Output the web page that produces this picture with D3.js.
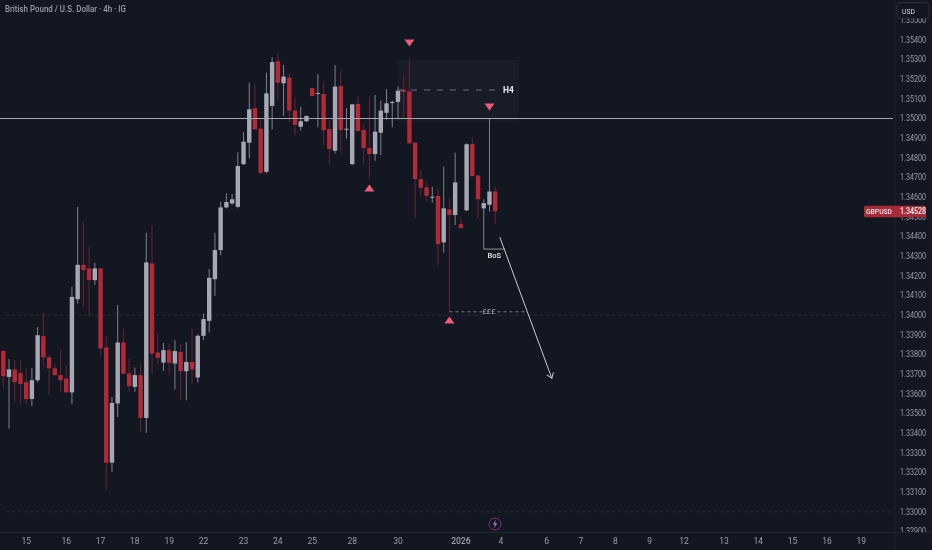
<!DOCTYPE html>
<html><head><meta charset="utf-8">
<script src="https://cdnjs.cloudflare.com/ajax/libs/d3/7.8.5/d3.min.js"></script>
<style>html,body{margin:0;padding:0;background:#131722;overflow:hidden}svg{display:block;filter:blur(0.4px)}</style>
</head><body><div id="chart"></div>
<script>
const title = "British Pound / U.S. Dollar · 4h · IG";
const symbol = "GBPUSD";
const currency = "USD";
const lastPrice = 1.34528;
const highs = [1.33822,1.33776,1.33771,1.33771,1.33732,1.33732,1.33940,1.34012,1.33796,1.33754,1.33825,1.33740,1.34144,1.34551,1.34472,1.34348,1.34266,1.34239,1.33893,1.33584,1.34051,1.33932,1.33781,1.33734,1.33751,1.34419,1.34454,1.33903,1.33859,1.33856,1.33873,1.33852,1.33861,1.33932,1.33902,1.34009,1.34234,1.34419,1.34577,1.34621,1.34616,1.34828,1.34930,1.35182,1.35176,1.34996,1.35233,1.35311,1.35332,1.35272,1.35230,1.35108,1.35060,1.35015,1.35158,1.35225,1.35187,1.34992,1.35272,1.35243,1.35052,1.35074,1.35114,1.34972,1.35108,1.35120,1.35091,1.35149,1.35091,1.35162,1.35216,1.35301,1.34878,1.34738,1.34678,1.34653,1.34645,1.34755,1.34594,1.34826,1.34497,1.34874,1.34904,1.34712,1.34589,1.35003,1.34653];
const lows = [1.33635,1.33423,1.33554,1.33547,1.33547,1.33537,1.33659,1.33737,1.33593,1.33690,1.33610,1.33602,1.33547,1.34059,1.34039,1.33995,1.34153,1.33796,1.33114,1.33203,1.33482,1.33699,1.33610,1.33610,1.33406,1.33401,1.33699,1.33751,1.33717,1.33695,1.33622,1.33567,1.33567,1.33649,1.33658,1.33873,1.33912,1.34098,1.34305,1.34543,1.34560,1.34543,1.34763,1.34797,1.34941,1.34712,1.34721,1.34945,1.35094,1.35013,1.34979,1.34916,1.34938,1.34982,1.35112,1.34955,1.34865,1.34768,1.34823,1.34823,1.34897,1.34763,1.34934,1.34768,1.34691,1.34785,1.34814,1.34992,1.34955,1.34996,1.35001,1.34870,1.34492,1.34607,1.34577,1.34571,1.34254,1.34317,1.34017,1.34458,1.34440,1.34529,1.34705,1.34492,1.34334,1.34526,1.34463];
const opens = [1.33818,1.33686,1.33724,1.33705,1.33659,1.33574,1.33669,1.33893,1.33786,1.33730,1.33695,1.33678,1.33607,1.34081,1.34256,1.34238,1.34178,1.34238,1.33836,1.33250,1.33551,1.33861,1.33703,1.33635,1.33695,1.33477,1.34263,1.33810,1.33759,1.33822,1.33754,1.33813,1.33715,1.33762,1.33683,1.33895,1.33971,1.34183,1.34331,1.34548,1.34568,1.34551,1.34768,1.34877,1.35052,1.34948,1.34729,1.35064,1.35291,1.35179,1.35208,1.35040,1.34958,1.34986,1.35155,1.35125,1.35125,1.34947,1.34836,1.35165,1.34945,1.34768,1.35074,1.34941,1.34850,1.34819,1.34928,1.35029,1.35079,1.35084,1.35145,1.35138,1.34877,1.34692,1.34650,1.34599,1.34606,1.34370,1.34538,1.34509,1.34463,1.34533,1.34870,1.34710,1.34543,1.34561,1.34629];
const closes = [1.33690,1.33724,1.33659,1.33650,1.33573,1.33669,1.33898,1.33785,1.33729,1.33695,1.33669,1.33608,1.34093,1.34256,1.34229,1.34178,1.34238,1.33831,1.33250,1.33554,1.33861,1.33703,1.33639,1.33695,1.33477,1.34268,1.33805,1.33783,1.33822,1.33757,1.33817,1.33715,1.33762,1.33724,1.33895,1.33980,1.34190,1.34331,1.34548,1.34575,1.34589,1.34758,1.34882,1.35047,1.34945,1.34724,1.35128,1.35287,1.35182,1.35213,1.35040,1.34967,1.34986,1.35013,1.35114,1.35130,1.34941,1.34845,1.35162,1.34941,1.34948,1.35072,1.34936,1.34850,1.34819,1.34933,1.35040,1.35077,1.35084,1.35141,1.35135,1.34874,1.34692,1.34648,1.34607,1.34602,1.34361,1.34543,1.34510,1.34675,1.34443,1.34869,1.34707,1.34589,1.34570,1.34629,1.34528];
const priceTicks = [1.355,1.354,1.353,1.352,1.351,1.350,1.349,1.348,1.347,1.346,1.345,1.344,1.343,1.342,1.341,1.340,1.339,1.338,1.337,1.336,1.335,1.334,1.333,1.332,1.331,1.330,1.329];
const timeLabels = ["15","16","17","18","19","22","23","24","25","28","30","2026","4","6","7","8","9","12","13","14","15","16","19"];
const timeIndex = [4,11,17,23,29,35,42,48,54,61,69,80,87,95,101,107,113,119,126,132,138,144,150];
const gridPrices = [1.34,1.33];
const keyLevel = 1.35;
const triDown = [[71,1.35384],[85,1.35059]];
const triUp = [[64,1.34646],[78,1.33975]];
const h4Box = [69,90.2,1.35298,1.34982];
const h4Line = [69,86.5,1.35145];
const bos = [84,87.7,1.34336];
const lows3 = [78,91.6,1.34017];
const arrowPath = [[86.8,1.34397],[95.9,1.33679]];

const W=932,H=550,axisX=895,axisY=532.5;
const bg="#131722",upC="#a6a9b3",upW="#7f828c",dnC="#b22a38",dnW="#6a2430",txt="#9a9da6",pink="#ee5b75";
const x=d3.scaleLinear().domain([0,86]).range([3.3,495.2]);
const y=d3.scaleLinear().domain([1.33,1.35]).range([511.8,118.5]);
const svg=d3.select("#chart").append("svg").attr("width",W).attr("height",H);
svg.append("rect").attr("width",W).attr("height",H).attr("fill",bg);
const defs=svg.append("defs");
defs.append("clipPath").attr("id","axc").append("rect").attr("x",axisX).attr("y",0).attr("width",W-axisX).attr("height",axisY);
defs.append("marker").attr("id","arr").attr("viewBox","-8 -6 10 12").attr("refX",0).attr("refY",0)
 .attr("markerWidth",10).attr("markerHeight",12).attr("markerUnits","userSpaceOnUse").attr("orient","auto")
 .append("path").attr("d","M-5,-3.5L0,0L-5,3.5").attr("fill","none").attr("stroke","#c8cad0").attr("stroke-width",1);

svg.selectAll(".grid").data(gridPrices).join("line").attr("x1",6).attr("x2",axisX-2)
 .attr("y1",d=>y(d)).attr("y2",d=>y(d)).attr("stroke","#2a2e38").attr("stroke-width",1).attr("stroke-dasharray","3 3");

svg.append("rect").attr("x",x(h4Box[0])).attr("width",x(h4Box[1])-x(h4Box[0]))
 .attr("y",y(h4Box[2])).attr("height",y(h4Box[3])-y(h4Box[2])).attr("fill","#181c26");

const idx=d3.range(highs.length);
svg.selectAll(".wick").data(idx).join("line").attr("x1",d=>x(d)).attr("x2",d=>x(d))
 .attr("y1",d=>y(highs[d])).attr("y2",d=>y(lows[d])).attr("stroke-width",1)
 .attr("stroke",d=>closes[d]>=opens[d]?upW:dnW);
svg.selectAll(".body").data(idx).join("rect").attr("x",d=>x(d)-2.2).attr("width",4.4)
 .attr("y",d=>y(Math.max(opens[d],closes[d])))
 .attr("height",d=>Math.max(1,Math.abs(y(opens[d])-y(closes[d]))))
 .attr("fill",d=>closes[d]>=opens[d]?upC:dnC);

svg.append("line").attr("x1",0).attr("x2",axisX-2).attr("y1",y(keyLevel)).attr("y2",y(keyLevel)).attr("stroke","#a4a7af").attr("stroke-width",1);

svg.append("line").attr("x1",x(h4Line[0])).attr("x2",x(h4Line[1])).attr("y1",y(h4Line[2])).attr("y2",y(h4Line[2]))
 .attr("stroke","#6f727b").attr("stroke-width",1).attr("stroke-dasharray","6 7");
svg.append("text").attr("x",x(h4Line[1])+5).attr("y",y(h4Line[2])).attr("dy","0.35em").attr("font-family","Roboto, sans-serif")
 .attr("font-size",8.5).attr("font-weight",700).attr("fill","#e8e9ec").text("H4");

const tri=(d,dir)=>{const cx=x(d[0]),cy=y(d[1]);return `M${cx-5},${cy-dir*3.5}L${cx+5},${cy-dir*3.5}L${cx},${cy+dir*3.5}Z`;};
svg.selectAll(".td").data(triDown).join("path").attr("d",d=>tri(d,1)).attr("fill",pink);
svg.selectAll(".tu").data(triUp).join("path").attr("d",d=>tri(d,-1)).attr("fill",pink);

svg.append("line").attr("x1",x(bos[0])).attr("x2",x(bos[1])).attr("y1",y(bos[2])).attr("y2",y(bos[2])).attr("stroke","#8f929b").attr("stroke-width",1);
svg.append("text").attr("x",(x(bos[0])+x(bos[1]))/2).attr("y",y(bos[2])+6).attr("dy","0.35em").attr("text-anchor","middle")
 .attr("font-family","Roboto, sans-serif").attr("font-size",7.5).attr("font-weight",500).attr("fill","#e8e9ec").text("BoS");

svg.append("line").attr("x1",x(lows3[0])).attr("x2",x(lows3[1])).attr("y1",y(lows3[2])).attr("y2",y(lows3[2]))
 .attr("stroke","#7a7d86").attr("stroke-width",1).attr("stroke-dasharray","3 3");
svg.append("rect").attr("x",482).attr("y",y(lows3[2])-4).attr("width",14).attr("height",8).attr("fill",bg);
svg.append("text").attr("x",489).attr("y",y(lows3[2])).attr("dy","0.35em").attr("text-anchor","middle")
 .attr("font-family","Roboto, sans-serif").attr("font-size",7.5).attr("fill","#b4b7bf").text("£££");

svg.append("path").attr("d",d3.line().x(d=>x(d[0])).y(d=>y(d[1]))(arrowPath)).attr("fill","none")
 .attr("stroke","#c8cad0").attr("stroke-width",1).attr("marker-end","url(#arr)");

svg.append("text").attr("x",5).attr("y",9).attr("dy","0.35em").attr("font-family","Roboto, sans-serif").attr("font-size",9)
 .attr("font-weight",500).attr("fill","#9a9da6").attr("textLength",121).attr("lengthAdjust","spacingAndGlyphs").text(title);

const ax=svg.append("g").attr("clip-path","url(#axc)");
ax.selectAll("text").data(priceTicks).join("text").attr("x",900).attr("y",d=>y(d)).attr("dy","0.35em")
 .attr("font-family","Roboto, sans-serif").attr("font-size",8.5).attr("fill",txt)
 .attr("textLength",26).attr("lengthAdjust","spacingAndGlyphs").text(d=>d.toFixed(5));

svg.append("line").attr("x1",axisX).attr("x2",axisX).attr("y1",0).attr("y2",H).attr("stroke","#20242e");
svg.append("line").attr("x1",0).attr("x2",W).attr("y1",axisY).attr("y2",axisY).attr("stroke","#20242e");

svg.append("rect").attr("x",897).attr("y",2.5).attr("width",32).attr("height",16).attr("rx",3).attr("fill","#131722").attr("stroke","#2c2f38");
svg.append("text").attr("x",902).attr("y",11).attr("dy","0.35em").attr("font-family","Roboto, sans-serif").attr("font-size",8)
 .attr("fill","#d1d4dc").attr("textLength",13).attr("lengthAdjust","spacingAndGlyphs").text(currency);

svg.append("rect").attr("x",864).attr("y",y(lastPrice)-5.5).attr("width",62).attr("height",11.5).attr("rx",1.5).attr("fill","#a82a38");
svg.append("text").attr("x",866).attr("y",y(lastPrice)).attr("dy","0.35em").attr("font-family","Roboto, sans-serif").attr("font-size",8)
 .attr("font-weight",500).attr("fill","#e6e6e8").attr("textLength",26).attr("lengthAdjust","spacingAndGlyphs").text(symbol);
svg.append("text").attr("x",900).attr("y",y(lastPrice)).attr("dy","0.35em").attr("font-family","Roboto, sans-serif").attr("font-size",8.5)
 .attr("font-weight",500).attr("fill","#f4f4f5").attr("textLength",26).attr("lengthAdjust","spacingAndGlyphs").text(lastPrice.toFixed(5));

svg.selectAll(".tl").data(timeLabels).join("text").attr("x",(d,i)=>x(timeIndex[i])).attr("y",541).attr("dy","0.35em")
 .attr("text-anchor","middle").attr("font-family","Roboto, sans-serif").attr("font-size",8.5)
 .attr("fill",txt).attr("font-weight",(d)=>d==="2026"?600:400).text(d=>d);

svg.append("circle").attr("cx",495).attr("cy",524).attr("r",6).attr("fill",bg).attr("stroke","#7e2d8a").attr("stroke-width",1);
svg.append("path").attr("d","M496,519.8L492.8,524.6H495L494,528.2L497.2,523.4H495Z").attr("fill","#9a9da6");
</script></body></html>
